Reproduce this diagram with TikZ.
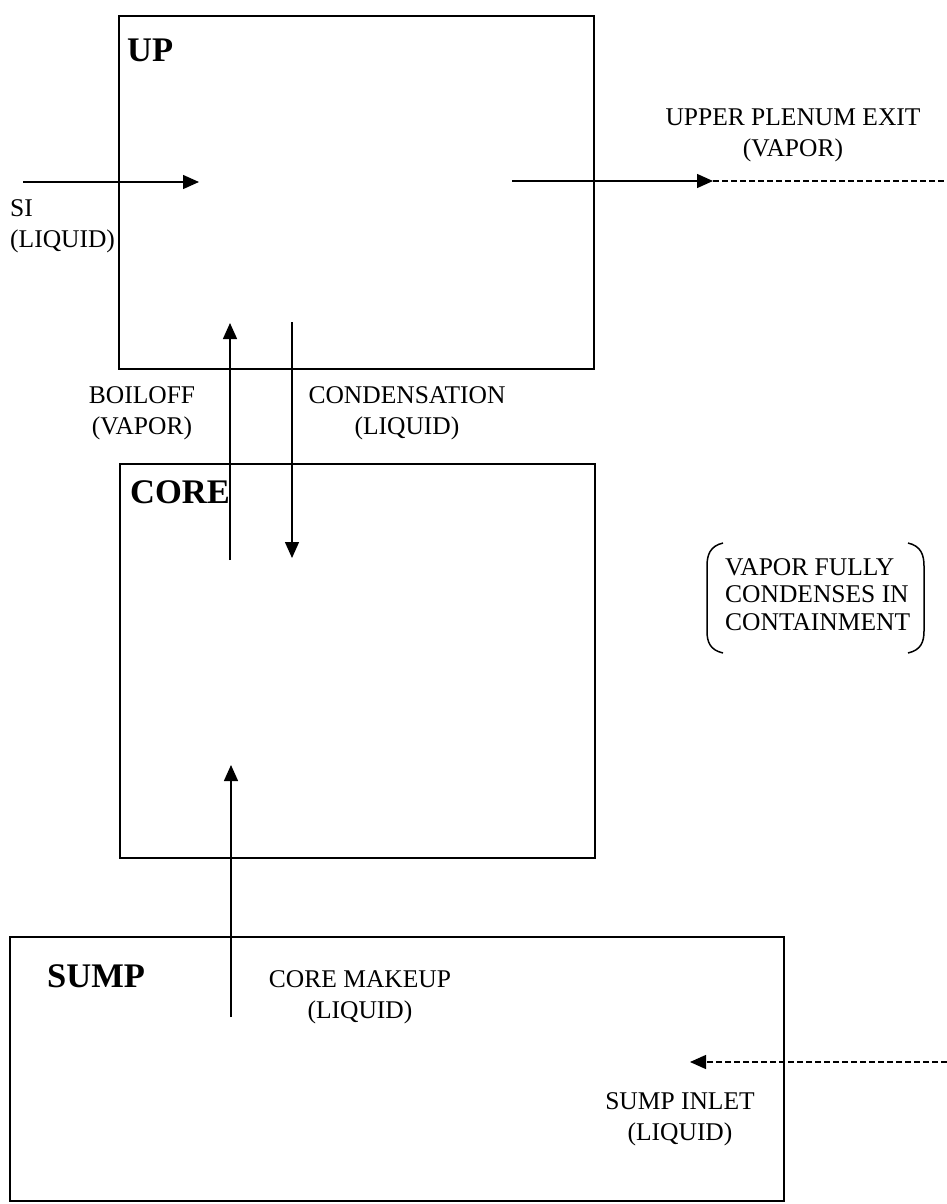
\documentclass[tikz,border=0pt]{standalone}
\usepackage{fontspec}
\setmainfont{Liberation Serif}
\usetikzlibrary{arrows.meta}
\begin{document}
\begin{tikzpicture}[x=1pt,y=-1pt,
  box/.style={draw,line width=2pt,inner sep=0pt},
  flow/.style={line width=1.4pt,-{Triangle[length=16pt,width=14pt]}},
  dashflow/.style={line width=1.4pt,dash pattern=on 6pt off 3pt},
  lbl/.style={font=\fontsize{25.5}{31}\selectfont,inner sep=0pt,align=center,anchor=base},
  title/.style={font=\fontsize{34.5}{38}\selectfont\bfseries,inner sep=0pt,anchor=base west},
  brk/.style={line width=1.5pt}]
\useasboundingbox (0,0) rectangle (947,1204);
% boxes
\node[box,minimum width=475pt,minimum height=353pt] (up) at (356.5,192.5) {};
\node[box,minimum width=475pt,minimum height=394pt] (core) at (357.5,661) {};
\node[box,minimum width=774pt,minimum height=264pt] (sump) at (397,1069) {};
% titles
\node[title] (uplbl) at (127,62) {UP};
\node[title] (corelbl) at (130,503) {CORE};
\node[title] (sumplbl) at (47,987) {SUMP};
% coordinates
\coordinate (siA) at (23,182);
\coordinate (siB) at (199,182);
\coordinate (upeA) at (512,181);
\coordinate (upeB) at (713,181);
\coordinate (upeC) at (947,181);
\coordinate (boA) at (230,560);
\coordinate (boB) at (230,323);
\coordinate (coA) at (292,322);
\coordinate (coB) at (292,558);
\coordinate (mkA) at (231,1017);
\coordinate (mkB) at (231,765);
\coordinate (siinA) at (947,1062);
\coordinate (siinB) at (690,1062);
% arrows
\draw[flow] (siA) -- (siB);
\draw[dashflow] (upeB) -- (upeC);
\draw[flow] (upeA) -- (upeB);
\draw[flow] (boA) -- (boB);
\draw[flow] (coA) -- (coB);
\draw[flow] (mkA) -- (mkB);
\draw[dashflow,-{Triangle[length=16pt,width=14pt]}] (siinA) -- (siinB);
% labels (anchor = baseline of last line)
\node[lbl,align=left,anchor=base west] (silbl) at (10,247) {SI\\(LIQUID)};
\node[lbl] (upelbl) at (793,156) {UPPER PLENUM EXIT\\(VAPOR)};
\node[lbl] (bolbl) at (142,434) {BOILOFF\\(VAPOR)};
\node[lbl] (colbl) at (407,434) {CONDENSATION\\(LIQUID)};
\node[lbl] (mklbl) at (360,1018) {CORE MAKEUP\\(LIQUID)};
\node[lbl] (sinlbl) at (680,1140) {SUMP INLET\\(LIQUID)};
\node[lbl,align=left,anchor=base west,font=\fontsize{25.5}{27.5}\selectfont] (vflbl) at (725,630) {VAPOR FULLY\\CONDENSES IN\\CONTAINMENT};
% brackets
\draw[brk] (723,543) .. controls (710,546) and (707,555) .. (707,566) -- (707,631) .. controls (707,642) and (710,650) .. (723,653);
\draw[brk] (908,543) .. controls (921,546) and (924,555) .. (924,566) -- (924,631) .. controls (924,642) and (921,650) .. (908,653);
\end{tikzpicture}
\end{document}
